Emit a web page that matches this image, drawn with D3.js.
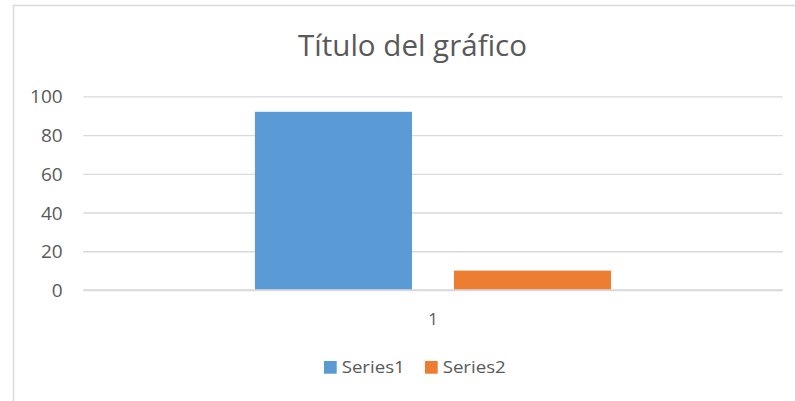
<!DOCTYPE html>
<html>
<head>
<meta charset="utf-8">
<script src="https://cdn.jsdelivr.net/npm/d3@7"></script>
<style>
  body { margin: 0; background: #fff; }
  svg { display: block; }
  text { font-family: "Open Sans", sans-serif; fill: #595959; }
</style>
</head>
<body>
<script>
const categories = ["1"];
const seriesNames = ["Series1", "Series2"];
const series1 = [92];
const series2 = [10];
const yTicks = [0, 20, 40, 60, 80, 100];
const colors = ["#5B9BD5", "#ED7D31"];
const titleText = "Título del gráfico";

const W = 795, H = 401;
const svg = d3.select("body").append("svg").attr("width", W).attr("height", H);

// chart border
svg.append("rect").attr("x", 13.5).attr("y", 5.5).attr("width", 820).attr("height", 420)
  .attr("fill", "#fff").attr("stroke", "#d9d9d9").attr("stroke-width", 1.5);

const plot = { left: 83.3, right: 782.7, top: 96.3, bottom: 290 };

const x = d3.scaleBand().domain(categories).range([plot.left, plot.right]).paddingInner(0).paddingOuter(0.482);
const xs = d3.scaleBand().domain(seriesNames).range([0, x.bandwidth()]).paddingInner(0.211).paddingOuter(0);
const y = d3.scaleLinear().domain([0, 100]).range([plot.bottom, plot.top]);

// title
svg.append("text").attr("x", 412.5).attr("y", 56).attr("text-anchor", "middle")
  .style("font-size", "29px").attr("textLength", 229).attr("lengthAdjust", "spacingAndGlyphs")
  .text(titleText);

// y axis + gridlines
const yAxis = svg.append("g").attr("transform", `translate(${plot.left},0)`)
  .call(d3.axisLeft(y).tickValues(yTicks).tickSize(-(plot.right - plot.left)).tickPadding(20.6));
yAxis.select(".domain").remove();
yAxis.selectAll(".tick line").attr("stroke", "#d9d9d9").attr("stroke-width", 1.3);
yAxis.selectAll(".tick text").style("font-size", "19px").style("font-family", "'Open Sans', sans-serif")
  .attr("fill", "#595959").attr("dy", "0.35em");

// bars
const data = categories.map((c, i) => ({ cat: c, values: [series1[i], series2[i]] }));
const groups = svg.append("g").selectAll("g").data(data).join("g")
  .attr("transform", d => `translate(${x(d.cat)},0)`);
groups.selectAll("rect").data(d => d.values.map((v, j) => ({ name: seriesNames[j], v, j })))
  .join("rect")
  .attr("x", d => xs(d.name))
  .attr("width", xs.bandwidth())
  .attr("y", d => y(d.v))
  .attr("height", d => y(0) - y(d.v))
  .attr("fill", d => colors[d.j]);

// x axis
const xAxis = svg.append("g").attr("transform", `translate(0,${plot.bottom})`)
  .call(d3.axisBottom(x).tickSize(0).tickPadding(23));
xAxis.select(".domain").attr("stroke", "#d9d9d9").attr("stroke-width", 1.3)
  .attr("d", `M${plot.left},0H${plot.right}`);
xAxis.selectAll(".tick text").style("font-size", "17px").style("font-family", "'Open Sans', sans-serif")
  .attr("fill", "#595959");

// legend
const legendStarts = [324, 425];
const leg = svg.append("g").selectAll("g").data(seriesNames).join("g")
  .attr("transform", (d, i) => `translate(${legendStarts[i]},361)`);
leg.append("rect").attr("width", 12.7).attr("height", 12.7).attr("fill", (d, i) => colors[i]);
leg.append("text").attr("x", 17.7).attr("y", 12.3).style("font-size", "16px")
  .attr("textLength", 63).attr("lengthAdjust", "spacingAndGlyphs").text(d => d);
</script>
</body>
</html>
